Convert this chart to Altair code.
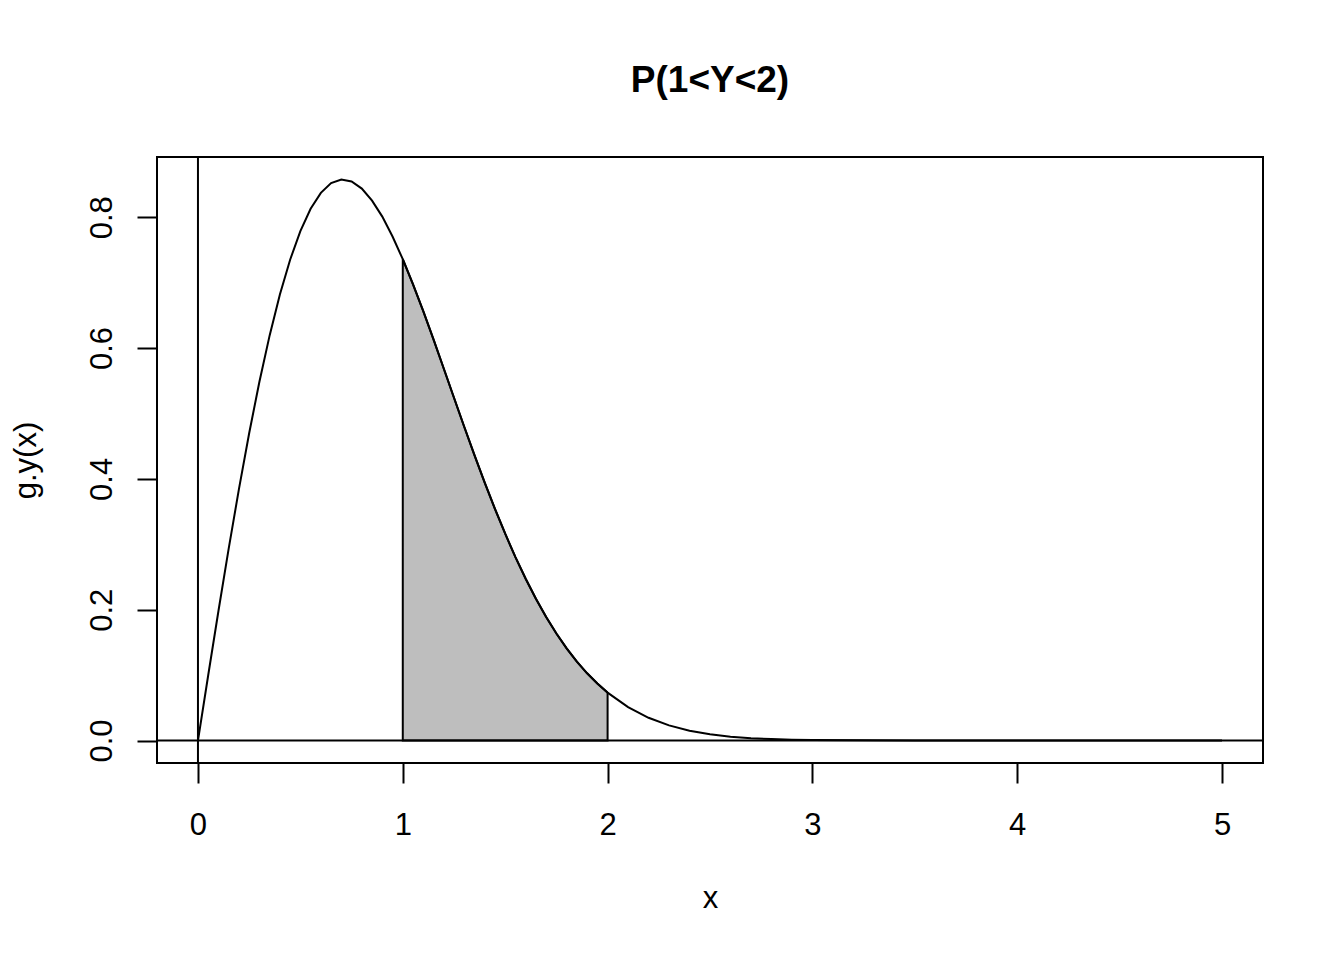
import altair as alt
import pandas as pd

# Density curve g.y(x)
x_vals = [0.0, 0.05, 0.1, 0.15, 0.2, 0.25, 0.3, 0.35, 0.4, 0.45, 0.5, 0.55, 0.6, 0.65, 0.7,
          0.75, 0.8, 0.85, 0.9, 0.95, 1.0, 1.05, 1.1, 1.15, 1.2, 1.25, 1.3, 1.35, 1.4, 1.45,
          1.5, 1.55, 1.6, 1.65, 1.7, 1.75, 1.8, 1.85, 1.9, 1.95, 2.0, 2.1, 2.2, 2.3, 2.4,
          2.5, 2.6, 2.7, 2.8, 2.9, 3.0, 3.5, 4.0, 4.5, 5.0]
g_vals = [0.0, 0.0998, 0.198, 0.2933, 0.3843, 0.4697, 0.5484, 0.6193, 0.6817, 0.7350, 0.7788,
          0.8129, 0.8372, 0.8521, 0.8577, 0.8547, 0.8437, 0.8253, 0.8009, 0.7704, 0.7358,
          0.6973, 0.6563, 0.6131, 0.5687, 0.5240, 0.4797, 0.4363, 0.3944, 0.3543, 0.3162,
          0.2804, 0.2473, 0.2167, 0.1889, 0.1637, 0.1409, 0.1207, 0.1028, 0.0871, 0.0733,
          0.0511, 0.0348, 0.0232, 0.0151, 0.0096, 0.0060, 0.0037, 0.0022, 0.0013, 0.0007,
          0.0, 0.0, 0.0, 0.0]
shade_from = 1.0
shade_to = 2.0
x_ticks = [0, 1, 2, 3, 4, 5]
y_ticks = [0.0, 0.2, 0.4, 0.6, 0.8]
x_domain = [-0.2, 5.2]
y_domain = [-0.0343, 0.892]
title_text = "P(1<Y<2)"
x_title = "x"
y_title = "g.y(x)"

df = pd.DataFrame({"x": x_vals, "g": g_vals})

FONT = "Liberation Sans"
LW = 2

xs = alt.Scale(domain=x_domain, nice=False, zero=False)
ys = alt.Scale(domain=y_domain, nice=False, zero=False)

x_axis = alt.Axis(values=x_ticks, title=x_title, domain=False, grid=False,
                  tickSize=20, tickWidth=LW, tickColor="black",
                  labelFont=FONT, labelFontSize=31, labelColor="black", labelPadding=27,
                  titleFont=FONT, titleFontSize=31, titleFontWeight="normal",
                  titleColor="black", titlePadding=43, format="d")
y_axis = alt.Axis(values=y_ticks, title=y_title, domain=False, grid=False,
                  tickSize=20, tickWidth=LW, tickColor="black",
                  labelFont=FONT, labelFontSize=31, labelColor="black", labelPadding=19,
                  labelAngle=270, format=".1f",
                  titleFont=FONT, titleFontSize=31, titleFontWeight="normal",
                  titleColor="black", titlePadding=44)

base = alt.Chart(df)

shade = base.transform_filter(
    (alt.datum.x >= shade_from) & (alt.datum.x <= shade_to)
).mark_area(color="#BEBEBE", stroke="black", strokeWidth=LW, clip=True).encode(
    x=alt.X("x:Q", scale=xs, axis=x_axis),
    y=alt.Y("g:Q", scale=ys, axis=y_axis),
    y2=alt.datum(0),
)

curve = base.mark_line(color="black", strokeWidth=LW, clip=True).encode(
    x=alt.X("x:Q", scale=xs),
    y=alt.Y("g:Q", scale=ys),
)

vline = alt.Chart(pd.DataFrame({"v": [0]})).mark_rule(color="black", strokeWidth=LW).encode(
    x=alt.X("v:Q", scale=xs)
)
hline = alt.Chart(pd.DataFrame({"h": [0]})).mark_rule(color="black", strokeWidth=LW).encode(
    y=alt.Y("h:Q", scale=ys)
)

chart = alt.layer(shade, curve, vline, hline).properties(
    width=1106, height=606,
    background="white",
    title=alt.TitleParams(text=title_text, font=FONT, fontSize=37, fontWeight="bold",
                          color="black", anchor="middle", baseline="alphabetic", offset=27),
    autosize=alt.AutoSizeParams(type="none"),
    padding={"left": 149, "top": 149, "right": 73, "bottom": 189},
).configure_view(stroke="black", strokeWidth=LW)

chart.save("out.html", embed_options={"renderer": "svg", "actions": False})
